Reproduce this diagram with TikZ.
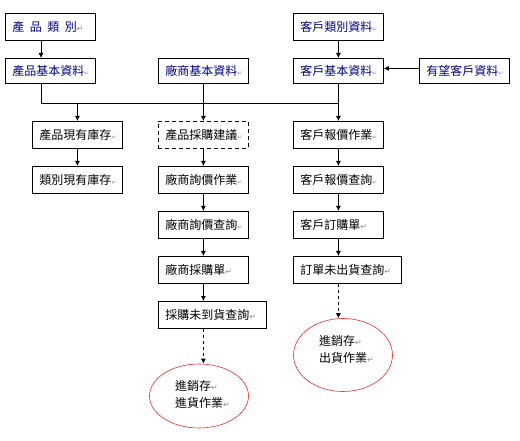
\documentclass[tikz,border=0pt]{standalone}
\usepackage{fontspec}
\setmainfont{Noto Sans CJK TC}
\newfontfamily\dejavu{DejaVu Sans}
\usetikzlibrary{arrows.meta,calc,shapes.geometric}
\definecolor{navyb}{RGB}{0,0,128}
\definecolor{ered}{RGB}{235,45,45}
\definecolor{mkgray}{RGB}{140,140,140}
\newcommand\cellmk{{\color{mkgray}\fontsize{6}{6}\selectfont\dejavu ↵}}
\newcommand\retmk{{\color{mkgray}\fontsize{8}{8}\selectfont\dejavu ↵}}
\begin{document}
\begin{tikzpicture}[x=1pt,y=-1pt,
  box/.style={draw, line width=0.8pt, anchor=north west, inner xsep=7pt, inner ysep=0pt,
    align=left, minimum height=27pt, font=\fontsize{12}{14}\selectfont},
  topbox/.style={box, minimum height=25pt, text=navyb},
  arr/.style={-{Latex[length=5pt,width=5pt]}, line width=0.8pt},
  ln/.style={line width=0.8pt},
  ell/.style={draw=ered, ellipse, line width=0.6pt, inner sep=0pt},
  etxt/.style={anchor=west, align=left, inner sep=0pt, font=\fontsize{12}{17}\selectfont}]
\useasboundingbox (0,0) rectangle (520,441);
% top row
\node[topbox, minimum height=27pt, text width=76pt] (A) at (5,13) {產\hspace{5.5pt}品\hspace{5.5pt}類\hspace{5.5pt}別\retmk};
\node[topbox, text width=76pt] (B) at (5,58) {產品基本資料\cellmk};
\node[topbox, text width=76pt] (C) at (158,58) {廠商基本資料\cellmk};
\node[topbox, minimum height=27pt, text width=76pt] (D) at (293,13) {客戶類別資料\cellmk};
\node[topbox, text width=76pt] (E) at (293,58) {客戶基本資料\cellmk};
\node[topbox, text width=76pt] (F) at (419,58) {有望客戶資料\cellmk};
% left column
\node[box, text width=76pt] (G) at (32,121) {產品現有庫存\cellmk};
\node[box, text width=76pt] (H) at (32,166) {類別現有庫存\cellmk};
% center column
\node[box, text width=76pt, dash pattern=on 4pt off 3pt] (I) at (158,121) {產品採購建議\cellmk};
\node[box, text width=76pt] (J) at (158,166) {廠商詢價作業\cellmk};
\node[box, text width=76pt] (K) at (158,211) {廠商詢價查詢\cellmk};
\node[box, text width=76pt] (L) at (158,256) {廠商採購單\retmk};
\node[box, text width=94pt] (M) at (158,301) {採購未到貨查詢\retmk};
% right column
\node[box, text width=76pt] (N) at (293,121) {客戶報價作業\cellmk};
\node[box, text width=76pt] (O) at (293,166) {客戶報價查詢\cellmk};
\node[box, text width=76pt] (P) at (293,211) {客戶訂購單\retmk};
\node[box, text width=94pt] (Q) at (293,256) {訂單未出貨查詢\retmk};
% ellipses
\node[ell, minimum width=99pt, minimum height=64pt] (E1) at (199,396) {};
\node[etxt] (E1t) at (175,394.5) {進銷存\retmk\\進貨作業\retmk};
\node[ell, minimum width=99pt, minimum height=73pt] (E2) at (343,355) {};
\node[etxt] (E2t) at (319,349.5) {進銷存\retmk\\出貨作業\retmk};
% bus
\coordinate (busL) at (41,103.5);
\coordinate (busR) at (338,103.5);
\coordinate (xl) at (41,0);
\draw[arr] (A.south -| xl) -- (B.north -| xl);
\draw[ln] (B.south -| xl) -- (busL) -- (busR);
\draw[arr] (G.north |- busL) -- (G.north);
\draw[arr] (C.south) -- (I.north);
\draw[arr] (E.south) -- (N.north);
\draw[arr] (D.south) -- (E.north);
\draw[arr] ([yshift=2.5pt]F.west) -- ([yshift=2.5pt]E.east);
% left column
\draw[arr] (G.south) -- (H.north);
% center column
\draw[arr] (I.south) -- (J.north);
\draw[arr] (J.south) -- (K.north);
\draw[arr] (K.south) -- (L.north);
\draw[arr] (L.south) -- (L.south |- M.north);
\draw[arr, dashed] (M.south -| L.south) -- (L.south |- E1.north);
% right column
\draw[arr] (N.south) -- (O.north);
\draw[arr] (O.south) -- (P.north);
\draw[arr] (P.south) -- (P.south |- Q.north);
\draw[arr, dashed] (Q.south -| P.south) -- (P.south |- E2.north);
\end{tikzpicture}
\end{document}
